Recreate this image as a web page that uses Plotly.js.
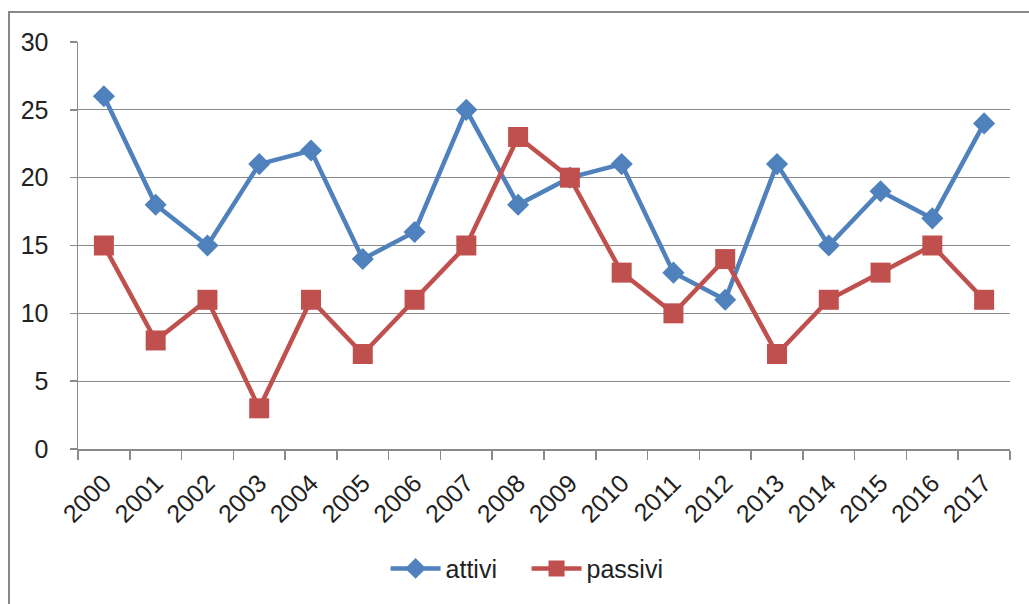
<!DOCTYPE html>
<html>
<head>
<meta charset="utf-8">
<script src="https://cdn.plot.ly/plotly-3.0.1.min.js"></script>
<style>
  html, body { margin: 0; padding: 0; background: #fff; overflow: hidden; }
  #wrap { position: relative; width: 1029px; height: 604px; }
  #chart { width: 1029px; height: 604px; }
  #frame { position: absolute; left: 8px; top: 11px; width: 1100px; height: 700px;
           border: 2px solid #878787; pointer-events: none; }
</style>
</head>
<body>
<div id="wrap">
  <div id="chart"></div>
  <div id="frame"></div>
</div>
<script>
const years = ["2000","2001","2002","2003","2004","2005","2006","2007","2008","2009",
               "2010","2011","2012","2013","2014","2015","2016","2017"];
const attivi = [26, 18, 15, 21, 22, 14, 16, 25, 18, 20, 21, 13, 11, 21, 15, 19, 17, 24];
const passivi = [15, 8, 11, 3, 11, 7, 11, 15, 23, 20, 13, 10, 14, 7, 11, 13, 15, 11];
const yTicks = [0, 5, 10, 15, 20, 25, 30];

const font = "Liberation Sans, Arial, sans-serif";
const fs = 25;

const traces = [
  { x: years, y: attivi, name: "attivi", type: "scatter", mode: "lines+markers",
    line: { color: "#4F81BD", width: 4.5 },
    marker: { symbol: "diamond", size: 17, color: "#4F81BD" } },
  { x: years, y: passivi, name: "passivi", type: "scatter", mode: "lines+markers",
    line: { color: "#C0504D", width: 4.5 },
    marker: { symbol: "square", size: 20, color: "#C0504D" } }
];

const layout = {
  width: 1029, height: 604,
  margin: { l: 78, r: 19, t: 42, b: 151 },
  paper_bgcolor: "#fff", plot_bgcolor: "#fff",
  font: { family: font, size: fs, color: "#222" },
  showlegend: true,
  legend: { orientation: "h", x: 0.33, xanchor: "left", y: -0.294, yanchor: "middle",
            font: { family: font, size: fs, color: "#222" }, itemwidth: 50,
            entrywidth: 76, entrywidthmode: "pixels" },
  xaxis: { type: "category", range: [-0.5, years.length - 0.5], tickson: "boundaries",
           ticks: "outside", ticklen: 9,
           tickcolor: "#8a8a8a", tickwidth: 1.5, showline: true, linecolor: "#8a8a8a",
           linewidth: 1.5, showgrid: false, tickangle: -45, zeroline: false,
           ticklabelstandoff: 8,
           tickfont: { family: font, size: fs, color: "#222" } },
  yaxis: { range: [0, 30], tickvals: yTicks, ticks: "outside", ticklen: 7,
           tickcolor: "#8a8a8a", tickwidth: 1.5, showline: true, linecolor: "#8a8a8a",
           linewidth: 1.5, gridcolor: "#8a8a8a", gridwidth: 1.2, zeroline: false,
           ticklabelstandoff: 16,
           tickfont: { family: font, size: fs, color: "#222" } }
};

Plotly.newPlot("chart", traces, layout, { displayModeBar: false, staticPlot: true });
</script>
</body>
</html>
